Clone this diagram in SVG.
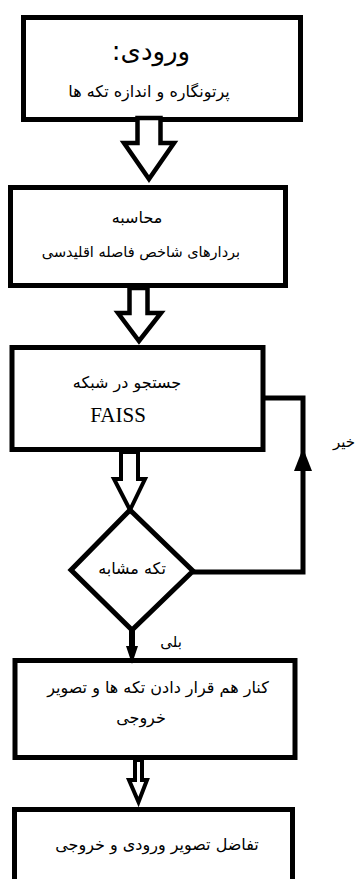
<svg xmlns="http://www.w3.org/2000/svg" width="357" height="879" viewBox="0 0 357 879">
<style>
.box{fill:#fff;stroke:#000;stroke-width:5}
.blk{fill:#fff;stroke:#000;stroke-width:4.5;stroke-linejoin:miter}
.fa{font-family:"DejaVu Sans",sans-serif;font-size:16px;fill:#000;text-anchor:middle;direction:rtl;unicode-bidi:embed}
.lat{font-family:"Liberation Serif",serif;font-size:21px;fill:#000;text-anchor:middle}
.ln{fill:none;stroke:#000;stroke-width:5}
</style>
<rect width="357" height="879" fill="#fff"/>
<g id="input">
<rect class="box" x="23.5" y="17.5" width="277" height="102"/>
<text class="fa" x="151" y="60" style="font-size:26px">ورودی:</text>
<text class="fa" x="149" y="97">پرتونگاره و اندازه تکه ها</text>
</g>
<g id="compute">
<rect class="box" x="10.5" y="187.5" width="275" height="98"/>
<text class="fa" x="137" y="223">محاسبه</text>
<text class="fa" x="141" y="257" style="font-size:14.5px">بردارهای شاخص فاصله اقلیدسی</text>
</g>
<g id="search">
<rect class="box" x="12" y="347.5" width="251" height="102"/>
<text class="fa" x="127" y="388">جستجو در شبکه</text>
<text class="lat" x="118" y="422">FAISS</text>
</g>
<g id="decision">
<polygon class="box" points="130,510 193,571 132,630 71,570"/>
<text class="fa" x="132" y="574">تکه مشابه</text>
</g>
<g id="combine">
<rect class="box" x="15" y="660.5" width="280" height="97"/>
<text class="fa" x="158" y="693">کنار هم قرار دادن تکه ها و تصویر</text>
<text class="fa" x="141" y="723">خروجی</text>
</g>
<g id="diff">
<rect class="box" x="14.5" y="809.5" width="278" height="100"/>
<text class="fa" x="157" y="850">تفاضل تصویر ورودی و خروجی</text>
</g>
<g id="connectors">
<polygon class="blk" points="137.5,118 160.5,118 160.5,143 174,143 149,179 124,143 137.5,143"/>
<polygon class="blk" points="129.5,288 147.5,288 147.5,313 161,313 139,341 118,313 129.5,313"/>
<polygon class="blk" points="121,452 138,452 138,479 145,479 130,510 114,479 121,479" style="stroke-width:4"/>
<polygon class="blk" points="135,760 142,760 142,780 147,780 138.5,802 129,780 135,780" style="stroke-width:4"/>
<polyline class="ln" points="265,398 303,398 303,572 193,572"/>
<polygon points="303,448 312,471 294,471" fill="#000"/>
<line x1="132" y1="630" x2="132" y2="650" stroke="#000" stroke-width="6"/>
<polygon points="126,646 138,646 132,664" fill="#000"/>
<text class="fa" x="171" y="647" style="font-size:15px">بلی</text>
<text class="fa" x="344" y="447" style="font-size:15px">خیر</text>
</g>
</svg>
